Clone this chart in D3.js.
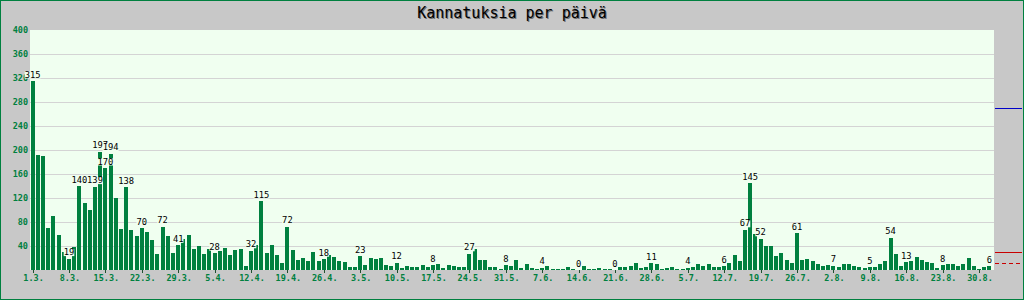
<!DOCTYPE html>
<html><head><meta charset="utf-8">
<script src="https://cdn.jsdelivr.net/npm/d3@7"></script>
<style>html,body{margin:0;padding:0;background:#c8c8c8;}svg{display:block;}</style>
</head><body>
<script>
// ---- data ----
const title = "Kannatuksia per päivä";
const startDate = new Date(2024, 2, 1); // 1.3.
const values = [
 315,192,190,70,90,58,30,19,38,140,112,100,139,197,170,194,120,68,138,67,57,70,63,50,27,72,57,28,41,52,58,35,40,
 27,35,28,32,37,25,33,35,7,32,42,115,28,42,25,12,72,33,17,20,15,30,15,18,25,22,15,13,5,5,23,8,20,18,
 20,8,7,12,3,7,5,5,8,5,8,10,3,8,7,5,5,27,35,17,17,5,5,2,8,7,17,3,10,3,2,4,7,2,2,
 1,5,2,0,7,1,2,3,2,1,0,5,5,7,12,3,5,11,10,2,3,5,1,2,4,5,10,7,10,5,5,6,12,25,15,
 67,145,60,52,40,40,23,28,17,12,61,17,18,15,10,7,8,7,5,10,10,7,5,3,5,5,10,
 15,54,27,7,13,15,22,17,13,12,3,8,10,10,7,10,20,7,2,5,6
];
const labeledDays = [0,7,9,12,13,14,15,18,21,25,28,35,42,44,49,56,63,70,77,84,91,98,105,112,119,126,133,137,138,140,147,154,161,165,168,175,184];
const tickLabels = ["1.3.","8.3.","15.3.","22.3.","29.3.","5.4.","12.4.","19.4.","26.4.","3.5.","10.5.","17.5.","24.5.","31.5.","7.6.","14.6.","21.6.","28.6.","5.7.","12.7.","19.7.","26.7.","2.8.","9.8.","16.8.","23.8.","30.8."];
const yTicks = [40,80,120,160,200,240,280,320,360,400];
const refLines = [
  {value: 270, color: "#0000c8", dash: null},
  {value: 30, color: "#c80000", dash: null},
  {value: 12, color: "#c80000", dash: "4,3"}
];

// ---- layout ----
const W = 1024, H = 300;
const plot = {l: 30, t: 30, r: 994, b: 270};
const green = "#00803f";
const font = "'DejaVu Sans Mono', monospace";

const days = values.map((v, i) => d3.timeDay.offset(startDate, i));
const fmt = d => d.getDate() + "." + (d.getMonth() + 1) + ".";

const svg = d3.select("body").append("svg").attr("width", W).attr("height", H);
svg.append("rect").attr("width", W).attr("height", H).attr("fill", "#c8c8c8");
svg.append("rect").attr("x", 0.5).attr("y", 0.5).attr("width", W - 1).attr("height", H - 1)
  .attr("fill", "none").attr("stroke", green);

const x = d3.scaleBand().domain(d3.range(values.length)).range([plot.l, plot.l + values.length * 5.2])
  .paddingInner(0.23).paddingOuter(0.115);
const y = d3.scaleLinear().domain([0, 400]).range([plot.b, plot.t]);

svg.append("rect").attr("x", plot.l).attr("y", plot.t).attr("width", plot.r - plot.l).attr("height", plot.b - plot.t)
  .attr("fill", "#f0fff0");

// grid
svg.append("g").selectAll("line").data(yTicks.filter(t => t < 400)).join("line")
  .attr("x1", plot.l).attr("x2", plot.r)
  .attr("y1", d => Math.round(y(d)) + 0.5).attr("y2", d => Math.round(y(d)) + 0.5)
  .attr("stroke", "#d4d4d4").attr("stroke-width", 1);

// y labels
svg.append("g").selectAll("text").data(yTicks).join("text")
  .attr("x", 28).attr("y", d => y(d) + 3)
  .attr("text-anchor", "end").attr("font-family", font).attr("font-size", 8.5).attr("font-weight", "bold")
  .attr("fill", green).text(d => d);

// bars
svg.append("g").attr("shape-rendering", "crispEdges").selectAll("rect").data(values).join("rect")
  .attr("x", (d, i) => x(i)).attr("width", x.bandwidth())
  .attr("y", d => y(d)).attr("height", d => plot.b - y(d))
  .attr("fill", green);

// x ticks & labels
const tickIdx = tickLabels.map(lbl => days.findIndex(d => fmt(d) === lbl));
const xg = svg.append("g");
xg.selectAll("line").data(tickIdx).join("line")
  .attr("x1", i => Math.round(x(i) + x.bandwidth() / 2) + 0.5).attr("x2", i => Math.round(x(i) + x.bandwidth() / 2) + 0.5)
  .attr("y1", 270).attr("y2", 273).attr("stroke", "#205030");
xg.selectAll("text").data(tickLabels).join("text")
  .attr("x", (d, k) => x(tickIdx[k]) + x.bandwidth() / 2 + 1).attr("y", 281)
  .attr("text-anchor", "middle").attr("font-family", font).attr("font-size", 8.5).attr("font-weight", "bold")
  .attr("fill", green).text(d => d);

// value labels
const lg = svg.append("g");
labeledDays.forEach(i => {
  const g = lg.append("g");
  const t = g.append("text")
    .attr("x", x(i) + x.bandwidth() / 2).attr("y", y(values[i]) - 3.5)
    .attr("text-anchor", "middle").attr("font-family", font).attr("font-size", 8.8)
    .attr("fill", "#000").text(values[i]);
  const bb = t.node().getBBox();
  g.insert("rect", "text").attr("x", bb.x).attr("y", bb.y + 2).attr("width", bb.width).attr("height", bb.height - 3)
    .attr("fill", "#f0fff0");
});

// reference lines in right margin
svg.append("g").selectAll("line").data(refLines).join("line")
  .attr("x1", 995).attr("x2", 1022)
  .attr("y1", d => Math.round(y(d.value)) + 0.5).attr("y2", d => Math.round(y(d.value)) + 0.5)
  .attr("stroke", d => d.color).attr("stroke-width", 1).attr("stroke-dasharray", d => d.dash);

// title
[["#707070", 1], ["#000", 0]].forEach(([c, o]) => {
  svg.append("text").attr("x", 512 + o).attr("y", 18 + o).attr("text-anchor", "middle")
    .attr("font-family", font).attr("font-size", 15).attr("fill", c).text(title);
});
</script>
</body></html>
